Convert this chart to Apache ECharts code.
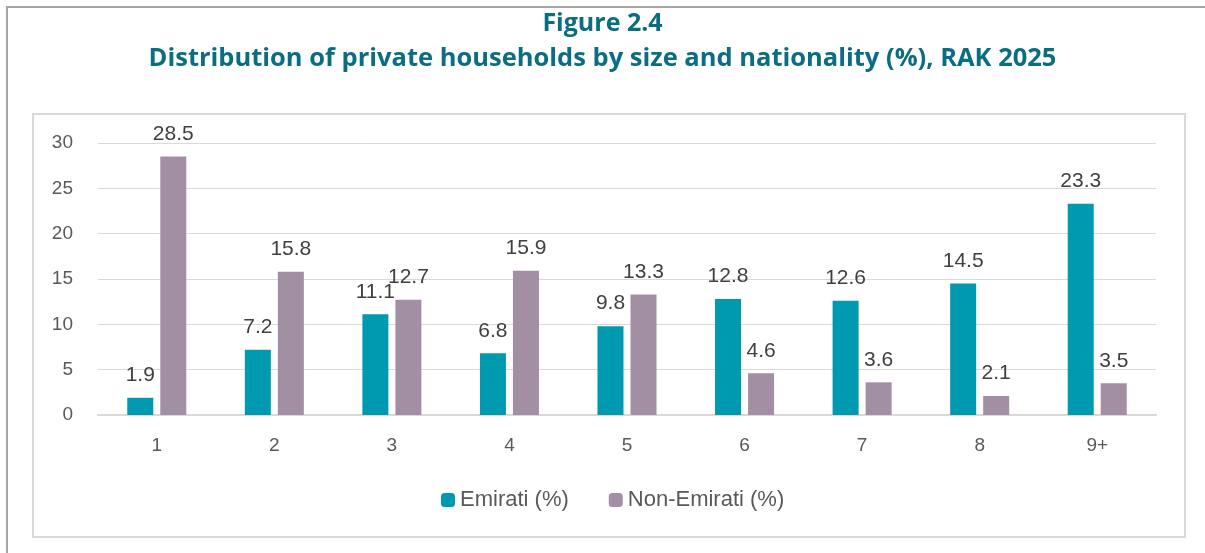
<!DOCTYPE html>
<html><head><meta charset="utf-8">
<script src="https://cdn.jsdelivr.net/npm/echarts@6/dist/echarts.min.js"></script>
<style>html,body{margin:0;padding:0;background:#fff}#c{width:1205px;height:553px}</style>
</head><body><div id="c"></div>
<script>
const categories = ['1','2','3','4','5','6','7','8','9+'];
const emirati = [1.9, 7.2, 11.1, 6.8, 9.8, 12.8, 12.6, 14.5, 23.3];
const nonEmirati = [28.5, 15.8, 12.7, 15.9, 13.3, 4.6, 3.6, 2.1, 3.5];
const seriesNames = ['Emirati (%)', 'Non-Emirati (%)'];
const titleLines = ['Figure 2.4', 'Distribution of private households by size and nationality (%), RAK 2025'];

const chart = echarts.init(document.getElementById('c'), null, {renderer:'canvas'});
const tfam = '"Open Sans", "Noto Sans", sans-serif';
const fam = '"Liberation Sans", Arial, sans-serif';
const lbl = {show:true, position:'top', distance:12, color:'#404040', fontSize:21, fontFamily:fam};
chart.setOption({
  animation:false,
  backgroundColor:'#fff',
  graphic:[
    {type:'rect', shape:{x:7,y:7,width:1300,height:700}, style:{fill:'none', stroke:'#a6a6a6', lineWidth:2}, z:-1},
    {type:'rect', shape:{x:33,y:114,width:1152,height:423}, style:{fill:'none', stroke:'#d9d9d9', lineWidth:2}, z:-1}
  ],
  title:[
    {text:titleLines[0], left:'center', top:6, padding:[5,5,5,9], textStyle:{color:'#0a6e80', fontSize:25, fontWeight:'bold', fontFamily:tfam}},
    {text:titleLines[1], left:'center', top:41, padding:[5,5,5,17], textStyle:{color:'#0a6e80', fontSize:25.5, fontWeight:'bold', fontFamily:tfam}}
  ],
  legend:{top:484, left:436, padding:5, itemWidth:14, itemHeight:14, itemGap:40,
    textStyle:{color:'#595959', fontSize:22, fontFamily:fam}, data:seriesNames},
  grid:{left:98, right:49, top:143, bottom:138},
  xAxis:{type:'category', data:categories,
    axisLine:{lineStyle:{color:'#d9d9d9', width:2}}, axisTick:{show:false},
    axisLabel:{color:'#595959', fontSize:19, margin:21, fontFamily:fam}},
  yAxis:{type:'value', min:0, max:30, interval:5,
    axisLine:{show:false}, axisTick:{show:false},
    splitLine:{lineStyle:{color:'#d9d9d9', width:1}},
    axisLabel:{color:'#595959', fontSize:19, margin:25, fontFamily:fam}},
  series:[
    {name:seriesNames[0], type:'bar', data:emirati, barWidth:26, barGap:'27%', itemStyle:{color:'#009ab0'}, label:lbl},
    {name:seriesNames[1], type:'bar', data:nonEmirati, barWidth:26, itemStyle:{color:'#a28fa3'}, label:lbl}
  ]
});
</script></body></html>
